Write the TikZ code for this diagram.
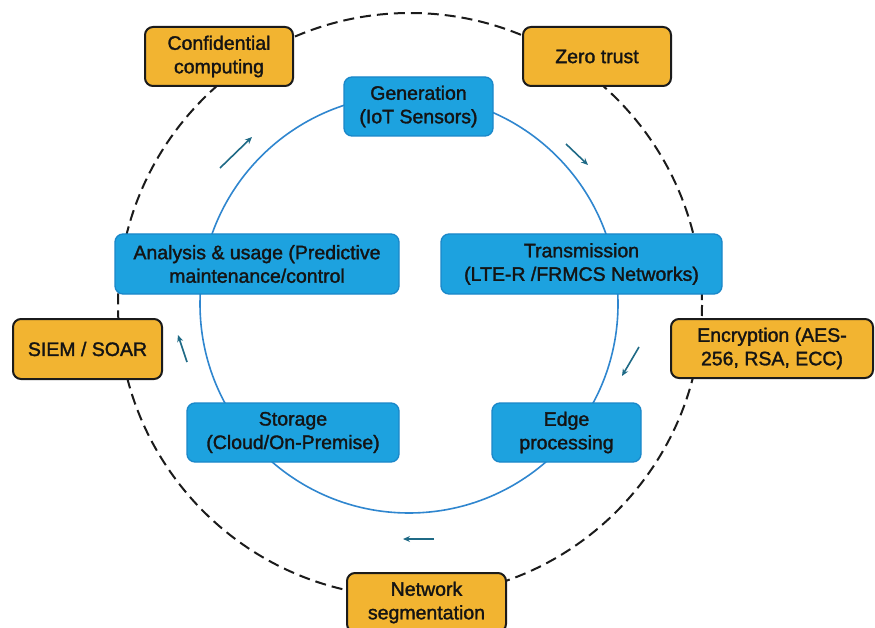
\documentclass[tikz,border=0pt]{standalone}
\usepackage{fontspec}
\setmainfont{Liberation Sans}
\newfontfamily\lblfont{Liberation Sans}[FakeBold=1.6]
\usetikzlibrary{arrows.meta}
\definecolor{bfill}{HTML}{1DA2DF}
\definecolor{bdraw}{HTML}{1A87C9}
\definecolor{ofill}{HTML}{F2B431}
\definecolor{odraw}{HTML}{1B1B1B}
\definecolor{ring}{HTML}{2F86CF}
\definecolor{arr}{HTML}{1F6A86}
\tikzset{
  lbl/.style={font=\lblfont\fontsize{19.5}{23.5}\selectfont, text=black!92},
  bluebox/.style={draw=bdraw, fill=bfill, line width=1.3pt, rounded corners=8pt, align=center, inner sep=0pt, lbl},
  orangebox/.style={draw=odraw, fill=ofill, line width=2pt, rounded corners=8pt, align=center, inner sep=0pt, lbl},
  flowarrow/.style={draw=arr, line width=1.6pt, -{Stealth[length=7pt,width=6pt]}},
  outer/.style={draw=odraw, line width=2pt, dash pattern=on 11pt off 6pt},
  inner/.style={draw=ring, line width=1.6pt}
}
\begin{document}
\begin{tikzpicture}[x=1pt,y=-1pt]
\useasboundingbox (0,0) rectangle (875,628);
\fill[white] (0,0) rectangle (875,628);
% rings
\draw[outer] (410,305) circle[radius=292];
\draw[inner] (409,304) circle[radius=209];
% blue boxes
\node[bluebox, minimum width=149pt, minimum height=59pt] (gen) at (418.5,106.5) {Generation\\(IoT Sensors)};
\node[bluebox, minimum width=284pt, minimum height=60pt] (ana) at (257,264) {Analysis \& usage (Predictive\\maintenance/control};
\node[bluebox, minimum width=281pt, minimum height=60pt] (trans) at (581.5,264) {Transmission\\(LTE-R /FRMCS Networks)};
\node[bluebox, minimum width=212pt, minimum height=59pt] (stor) at (293,432.5) {Storage\\(Cloud/On-Premise)};
\node[bluebox, minimum width=149pt, minimum height=59pt] (edge) at (566.5,432.5) {Edge\\processing};
% orange boxes
\node[orangebox, minimum width=148pt, minimum height=59pt] (conf) at (219,56.5) {Confidential\\computing};
\node[orangebox, minimum width=148pt, minimum height=59pt] (zero) at (597,56.5) {Zero trust};
\node[orangebox, minimum width=149pt, minimum height=60pt] (siem) at (87.5,349) {SIEM / SOAR};
\node[orangebox, minimum width=202pt, minimum height=59pt] (enc) at (772,348.5) {Encryption (AES-\\256, RSA, ECC)};
\node[orangebox, minimum width=159pt, minimum height=59pt] (net) at (426.5,602.5) {Network\\segmentation};
% flow arrows
\coordinate (a1s) at (220,168); \coordinate (a1e) at (252,137);
\coordinate (a2s) at (566,144); \coordinate (a2e) at (588,165);
\coordinate (a3s) at (639,347); \coordinate (a3e) at (622,376);
\coordinate (a4s) at (434,539); \coordinate (a4e) at (403,539);
\coordinate (a5s) at (187,362); \coordinate (a5e) at (178,335);
\draw[flowarrow] (a1s) -- (a1e);
\draw[flowarrow] (a2s) -- (a2e);
\draw[flowarrow] (a3s) -- (a3e);
\draw[flowarrow] (a4s) -- (a4e);
\draw[flowarrow] (a5s) -- (a5e);
\end{tikzpicture}
\end{document}
